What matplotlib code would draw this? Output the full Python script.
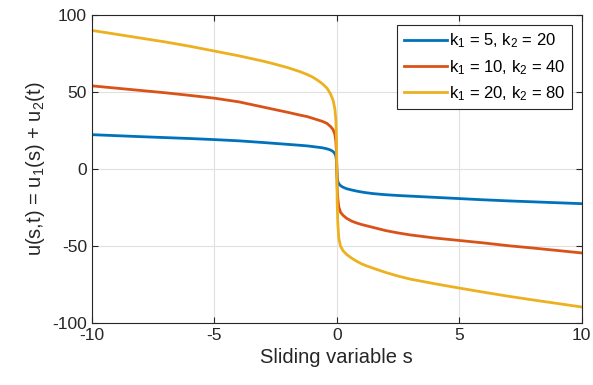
import matplotlib
matplotlib.use("Agg")
import matplotlib.pyplot as plt

# values
s_vals = [-10, -8, -7, -6, -5, -4, -3, -2.5, -2, -1.5, -1.2, -1, -0.8, -0.6, -0.4, -0.25, -0.15, -0.08, -0.04, -0.015, 0,
          0.015, 0.04, 0.08, 0.15, 0.25, 0.4, 0.6, 0.8, 1, 1.2, 1.5, 2, 2.5, 3, 4, 5, 6, 7, 8, 10]

u_k5 = [22.3, 21.0, 20.4, 19.8, 19.1, 18.3, 17.2, 16.6, 16.0, 15.4, 15.0, 14.6, 14.2, 13.8, 13.1, 12.3, 11.3, 10.0, 8.5, 5.5, 0,
        -5.5, -8.0, -9.5, -10.8, -11.8, -12.8, -13.6, -14.3, -14.9, -15.4, -16.0, -16.7, -17.2, -17.6, -18.4, -19.2, -20.0, -20.7, -21.3, -22.5]

u_k10 = [54.0, 51.0, 49.5, 47.8, 46.0, 43.6, 40.2, 38.5, 36.8, 35.0, 34.0, 33.0, 32.0, 31.0, 29.6, 27.5, 25.5, 22.5, 18.0, 11.0, 0,
         -12.0, -19.0, -24.5, -28.0, -30.0, -32.0, -33.8, -35.0, -36.0, -36.8, -38.0, -40.0, -41.5, -42.8, -44.8, -46.4, -48.0, -49.8, -51.3, -54.5]

u_k20 = [90.0, 85.0, 82.5, 79.7, 76.6, 73.5, 70.0, 68.0, 65.8, 63.2, 61.3, 59.8, 57.8, 55.5, 52.5, 48.5, 44.5, 39.0, 32.0, 20.0, 0,
         -22.0, -35.0, -45.0, -50.0, -53.0, -55.5, -57.8, -59.8, -61.5, -62.8, -64.5, -67.2, -69.5, -71.5, -74.5, -77.3, -80.0, -82.6, -85.0, -89.6]

labels = [r"k$\mathregular{_1}$ = 5, k$\mathregular{_2}$ = 20",
          r"k$\mathregular{_1}$ = 10, k$\mathregular{_2}$ = 40",
          r"k$\mathregular{_1}$ = 20, k$\mathregular{_2}$ = 80"]
colors = ["#0072BD", "#D95319", "#EDB120"]

plt.rcParams["font.family"] = ["Liberation Sans", "DejaVu Sans"]
plt.rcParams["mathtext.fontset"] = "custom"
plt.rcParams["mathtext.rm"] = "Liberation Sans"
plt.rcParams["axes.unicode_minus"] = False

fig = plt.figure(figsize=(5.93, 3.85), dpi=100)
ax = fig.add_axes([0.155, 0.161, 0.826, 0.80])

for u, lab, col in zip([u_k5, u_k10, u_k20], labels, colors):
    ax.plot(s_vals, u, color=col, linewidth=2.0, label=lab)

ax.set_xlim(-10, 10)
ax.set_ylim(-100, 100)
ax.set_xticks([-10, -5, 0, 5, 10])
ax.set_yticks([-100, -50, 0, 50, 100])
ax.grid(True, color="#e0e0e0", linewidth=0.8)
ax.set_axisbelow(True)

ax.tick_params(direction="in", top=True, right=True, labelsize=12.5,
               colors="#262626", length=4)
for sp in ax.spines.values():
    sp.set_color("#262626")
    sp.set_linewidth(0.8)

ax.set_xlabel("Sliding variable s", fontsize=14.5, color="#262626")
ax.set_ylabel(r"u(s,t) = u$\mathregular{_1}$(s) + u$\mathregular{_2}$(t)",
              fontsize=14.5, color="#262626")

leg = ax.legend(loc="upper right", fontsize=12, handlelength=2.6,
                handletextpad=0.1, borderaxespad=0.6, fancybox=False,
                framealpha=1, labelspacing=0.45)
leg.get_frame().set_edgecolor("#262626")
leg.get_frame().set_linewidth(0.8)

fig.savefig("out.png", dpi=100)
